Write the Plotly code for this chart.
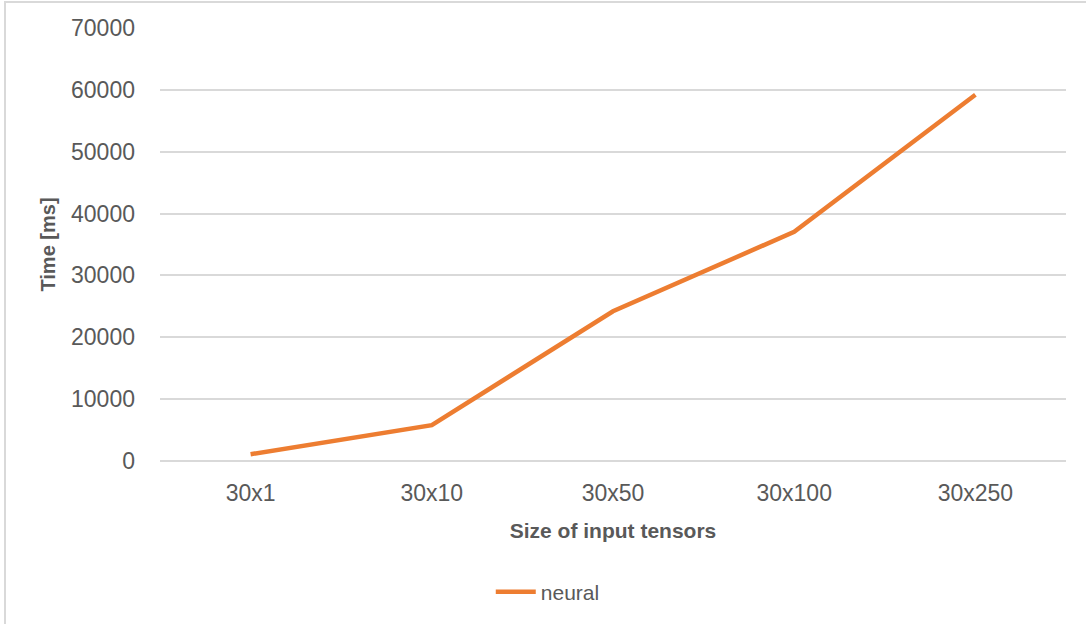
import plotly.graph_objects as go

# Input tensor sizes and measured run times
sizes = ["30x1", "30x10", "30x50", "30x100", "30x250"]
neural_ms = [1100, 5800, 24200, 37050, 59200]
y_ticks = [0, 10000, 20000, 30000, 40000, 50000, 60000, 70000]

W, H = 1086, 624
L, R, T, B = 160, 20, 28, 162

grid = "#D9D9D9"
text_gray = "#595959"
font_family = "Liberation Sans, Arial, sans-serif"

fig = go.Figure()
fig.add_trace(go.Scatter(
    x=sizes, y=neural_ms, mode="lines", name="neural",
    line=dict(color="#ED7D31", width=4.5),
))

fig.update_layout(
    width=W, height=H,
    margin=dict(l=L, r=R, t=T, b=B),
    paper_bgcolor="white", plot_bgcolor="white",
    font=dict(family=font_family, color=text_gray),
    showlegend=True,
    legend=dict(
        orientation="h", x=0.428, xanchor="center",
        y=-0.30, yanchor="middle",
        font=dict(size=21, color=text_gray),
        itemwidth=40,
    ),
    xaxis=dict(
        type="category", categoryorder="array", categoryarray=sizes,
        range=[-0.5, len(sizes) - 0.5],
        showgrid=False, zeroline=False, showline=False,
        ticks="", ticklabelstandoff=16,
        tickfont=dict(size=23, color=text_gray),
        title=dict(text="<b>Size of input tensors</b>", standoff=18,
                   font=dict(size=21, color=text_gray)),
    ),
    yaxis=dict(
        range=[0, 70000], tickvals=y_ticks, tickformat="d",
        showgrid=True, gridcolor=grid, gridwidth=1.5,
        zeroline=True, zerolinecolor=grid, zerolinewidth=1.5,
        showline=False, ticks="", ticklabelstandoff=24,
        tickfont=dict(size=23, color=text_gray),
        title=dict(text="<b>Time [ms]</b>", standoff=10,
                   font=dict(size=20, color=text_gray)),
    ),
    shapes=[dict(
        type="rect", xref="paper", yref="paper",
        x0=-(L - 5) / (W - L - R), x1=1.1,
        y0=-1.0, y1=1 + (T - 2) / (H - T - B),
        line=dict(color=grid, width=2), fillcolor="rgba(0,0,0,0)",
        layer="below",
    )],
)

fig.write_html("out.html")
